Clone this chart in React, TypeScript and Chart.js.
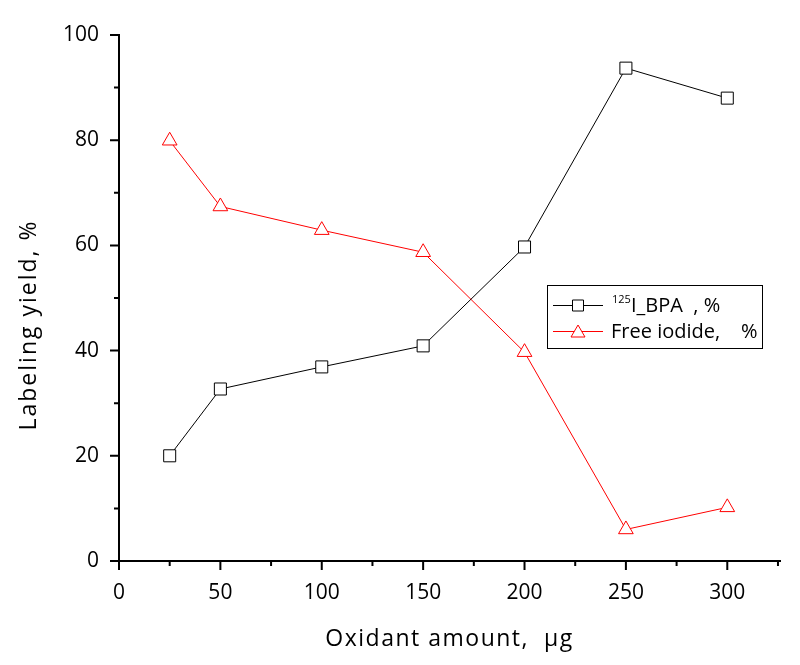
import React, { useEffect, useRef } from "react";
import { Chart, registerables } from "chart.js";

Chart.register(...registerables);

const oxidantAmounts = [25, 50, 100, 150, 200, 250, 300];
const bpaYield = [20.0, 32.7, 36.9, 40.9, 59.7, 93.7, 88.0];
const freeIodide = [79.9, 67.4, 62.9, 58.7, 39.7, 6.0, 10.2];

const xMajorTicks = [0, 50, 100, 150, 200, 250, 300];
const xMinorTicks = [25, 75, 125, 175, 225, 275, 325];
const yMajorTicks = [0, 20, 40, 60, 80, 100];
const yMinorTicks = [10, 30, 50, 70, 90];

const xTitle = "Oxidant amount,  µg";
const yTitle = "Labeling yield, %";

const FONT = "'Open Sans', 'Noto Sans', sans-serif";

const tickPlugin = {
  id: "axisTicks",
  afterDraw(chart: any) {
    const ctx = chart.ctx;
    const xs = chart.scales.x;
    const ys = chart.scales.y;
    const area = chart.chartArea;
    ctx.save();
    ctx.strokeStyle = "#000";
    ctx.lineWidth = 2;
    ctx.beginPath();
    xMajorTicks.forEach((v) => {
      const px = xs.getPixelForValue(v);
      ctx.moveTo(px, area.bottom);
      ctx.lineTo(px, area.bottom + 9);
    });
    xMinorTicks.forEach((v) => {
      const px = xs.getPixelForValue(v);
      ctx.moveTo(px, area.bottom);
      ctx.lineTo(px, area.bottom + 5);
    });
    yMajorTicks.forEach((v) => {
      const py = ys.getPixelForValue(v);
      ctx.moveTo(area.left, py);
      ctx.lineTo(area.left - 9, py);
    });
    yMinorTicks.forEach((v) => {
      const py = ys.getPixelForValue(v);
      ctx.moveTo(area.left, py);
      ctx.lineTo(area.left - 5, py);
    });
    ctx.stroke();

    // axis titles
    ctx.fillStyle = "#000";
    ctx.textAlign = "center";
    ctx.textBaseline = "middle";
    ctx.font = `23px ${FONT}`;
    (ctx as any).letterSpacing = "1.5px";
    ctx.fillText(xTitle, (area.left + area.right) / 2, 639);
    ctx.save();
    ctx.translate(29, 325);
    ctx.rotate(-Math.PI / 2);
    (ctx as any).letterSpacing = "2px";
    ctx.fillText(yTitle, 0, 0);
    ctx.restore();
    (ctx as any).letterSpacing = "0px";

    // legend
    const bx = 547;
    const by = 285;
    const bw = 215;
    const bh = 63;
    ctx.lineWidth = 1;
    ctx.strokeStyle = "#000";
    ctx.strokeRect(bx + 0.5, by + 0.5, bw, bh);
    const rows = [
      { y: by + 20, color: "#000", marker: "square" },
      { y: by + 46, color: "#ff0000", marker: "triangle" },
    ];
    rows.forEach((r) => {
      ctx.strokeStyle = r.color;
      ctx.lineWidth = 1;
      ctx.beginPath();
      ctx.moveTo(bx + 6, r.y + 0.5);
      ctx.lineTo(bx + 56, r.y + 0.5);
      ctx.stroke();
      const cx = bx + 31;
      ctx.fillStyle = "#fff";
      ctx.beginPath();
      if (r.marker === "square") {
        ctx.rect(cx - 5.5, r.y - 5, 11, 11);
      } else {
        ctx.moveTo(cx, r.y - 6);
        ctx.lineTo(cx + 7, r.y + 6);
        ctx.lineTo(cx - 7, r.y + 6);
        ctx.closePath();
      }
      ctx.fill();
      ctx.stroke();
    });
    ctx.fillStyle = "#000";
    ctx.textBaseline = "alphabetic";
    ctx.textAlign = "left";
    ctx.font = `11px ${FONT}`;
    ctx.fillText("125", bx + 65, by + 18);
    ctx.font = `20px ${FONT}`;
    ctx.fillText("I_BPA  , %", bx + 84, by + 27);
    ctx.fillText("Free iodide,    %", bx + 64, by + 53);
    ctx.restore();
  },
};

export default function App() {
  const ref = useRef<HTMLCanvasElement | null>(null);
  useEffect(() => {
    document.body.style.margin = "0";
    const canvas = ref.current;
    if (!canvas) return;
    const chart = new Chart(canvas, {
      type: "line",
      data: {
        datasets: [
          {
            label: "125I_BPA , %",
            data: oxidantAmounts.map((x, i) => ({ x, y: bpaYield[i] })),
            borderColor: "#000",
            borderWidth: 1,
            pointStyle: "rect",
            pointRadius: 8.5,
            pointBackgroundColor: "#fff",
            pointBorderColor: "#000",
            pointBorderWidth: 1,
            tension: 0,
          },
          {
            label: "Free iodide, %",
            data: oxidantAmounts.map((x, i) => ({ x, y: freeIodide[i] })),
            borderColor: "#ff0000",
            borderWidth: 1,
            pointStyle: "triangle",
            pointRadius: 8.5,
            pointBackgroundColor: "#fff",
            pointBorderColor: "#ff0000",
            pointBorderWidth: 1,
            tension: 0,
          },
        ],
      },
      options: {
        animation: false,
        responsive: true,
        maintainAspectRatio: false,
        layout: { padding: { left: 12, right: 20, top: 35, bottom: 0 } },
        plugins: {
          legend: { display: false },
          tooltip: { enabled: false },
        },
        scales: {
          x: {
            type: "linear",
            min: 0,
            max: 326,
            afterFit: (s: any) => {
              s.height = 104;
            },
            afterBuildTicks: (s: any) => {
              s.ticks = xMajorTicks.map((v) => ({ value: v }));
            },
            grid: { display: false },
            border: { display: true, color: "#000", width: 2 },
            ticks: {
              color: "#000",
              font: { family: FONT, size: 21 },
              padding: 11,
              maxRotation: 0,
            },
          },
          y: {
            min: 0,
            max: 100,
            afterFit: (s: any) => {
              s.width = 107;
            },
            afterBuildTicks: (s: any) => {
              s.ticks = yMajorTicks.map((v) => ({ value: v }));
            },
            grid: { display: false },
            border: { display: true, color: "#000", width: 2 },
            ticks: {
              color: "#000",
              font: { family: FONT, size: 21 },
              padding: 12,
            },
          },
        },
      },
      plugins: [tickPlugin],
    });
    return () => chart.destroy();
  }, []);
  return (
    <div style={{ position: "fixed", left: 0, top: 0, width: 800, height: 665 }}>
      <canvas ref={ref} />
    </div>
  );
}
